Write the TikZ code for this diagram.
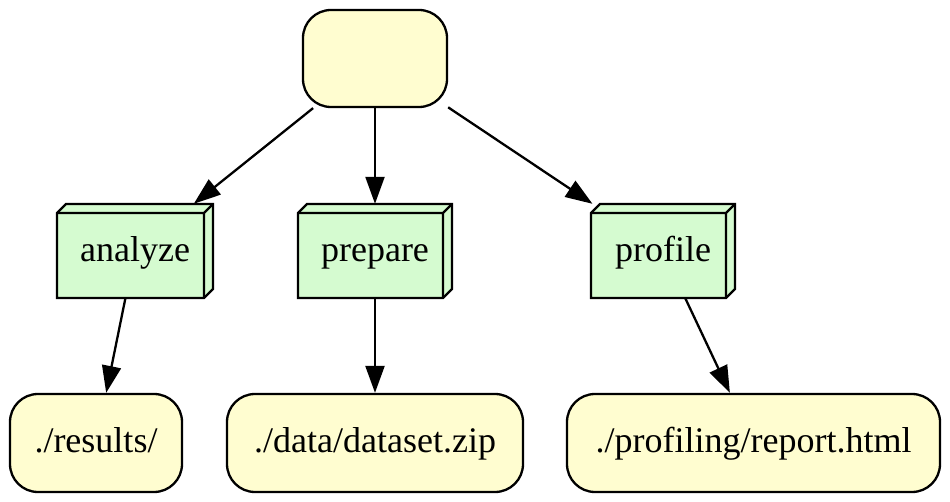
\documentclass[tikz,border=0pt]{standalone}
\usepackage{fontspec}
\setmainfont{Liberation Serif}
\usetikzlibrary{arrows.meta}
\definecolor{nodeyellow}{HTML}{FFFDD0}
\definecolor{boxgreen}{HTML}{D5FBD0}
\tikzset{
  file/.style={draw=black, line width=2.3pt, fill=nodeyellow, rounded corners=28pt,
    minimum height=98pt, inner sep=0pt, text height=24pt, text depth=6pt,
    font=\fontsize{36}{43}\selectfont},
  boxface/.style={draw=black, line width=2.3pt, fill=boxgreen, line join=miter},
  boxedge/.style={draw=black, line width=2.3pt, line join=miter},
  boxlabel/.style={inner sep=0pt, minimum height=94pt, text height=25pt, text depth=3pt,
    font=\fontsize{36}{43}\selectfont},
  flow/.style={draw=black, line width=2.3pt, -{Triangle[length=27pt,width=19pt]}}
}
\begin{document}
\begin{tikzpicture}[x=1pt,y=-1pt]
\useasboundingbox (0,0) rectangle (950,502);

% top node
\node[file, minimum width=144pt, minimum height=97pt] (top) at (375,58.5) {};

% analyze box
\filldraw[boxface] (57,298) -- (57,213) -- (66,204) -- (213,204) -- (213,289) -- (204,298) -- cycle;
\draw[boxedge] (57,213) -- (204,213) -- (213,204) (204,213) -- (204,298);
\node[boxlabel, minimum width=156pt] (analyze) at (135,251) {analyze};

% prepare box
\filldraw[boxface] (298,298) -- (298,213) -- (307,204) -- (452,204) -- (452,289) -- (443,298) -- cycle;
\draw[boxedge] (298,213) -- (443,213) -- (452,204) (443,213) -- (443,298);
\node[boxlabel, minimum width=154pt] (prepare) at (375,251) {prepare};

% profile box
\filldraw[boxface] (591,298) -- (591,213) -- (600,204) -- (735,204) -- (735,289) -- (726,298) -- cycle;
\draw[boxedge] (591,213) -- (726,213) -- (735,204) (726,213) -- (726,298);
\node[boxlabel, minimum width=144pt] (profile) at (663,251) {profile};

% bottom nodes
\node[file, minimum width=172pt] (results) at (96,443) {./results/};
\node[file, minimum width=296pt] (dataset) at (375,443) {./data/dataset.zip};
\node[file, minimum width=373pt] (report) at (753.5,443) {./profiling/report.html};

% edges
\draw[flow] (top) -- (analyze);
\draw[flow] (top) -- (prepare);
\draw[flow] (top) -- (profile);
\draw[flow] (analyze) -- (results);
\draw[flow] (prepare) -- (dataset);
\draw[flow] (profile) -- (report);
\end{tikzpicture}
\end{document}
